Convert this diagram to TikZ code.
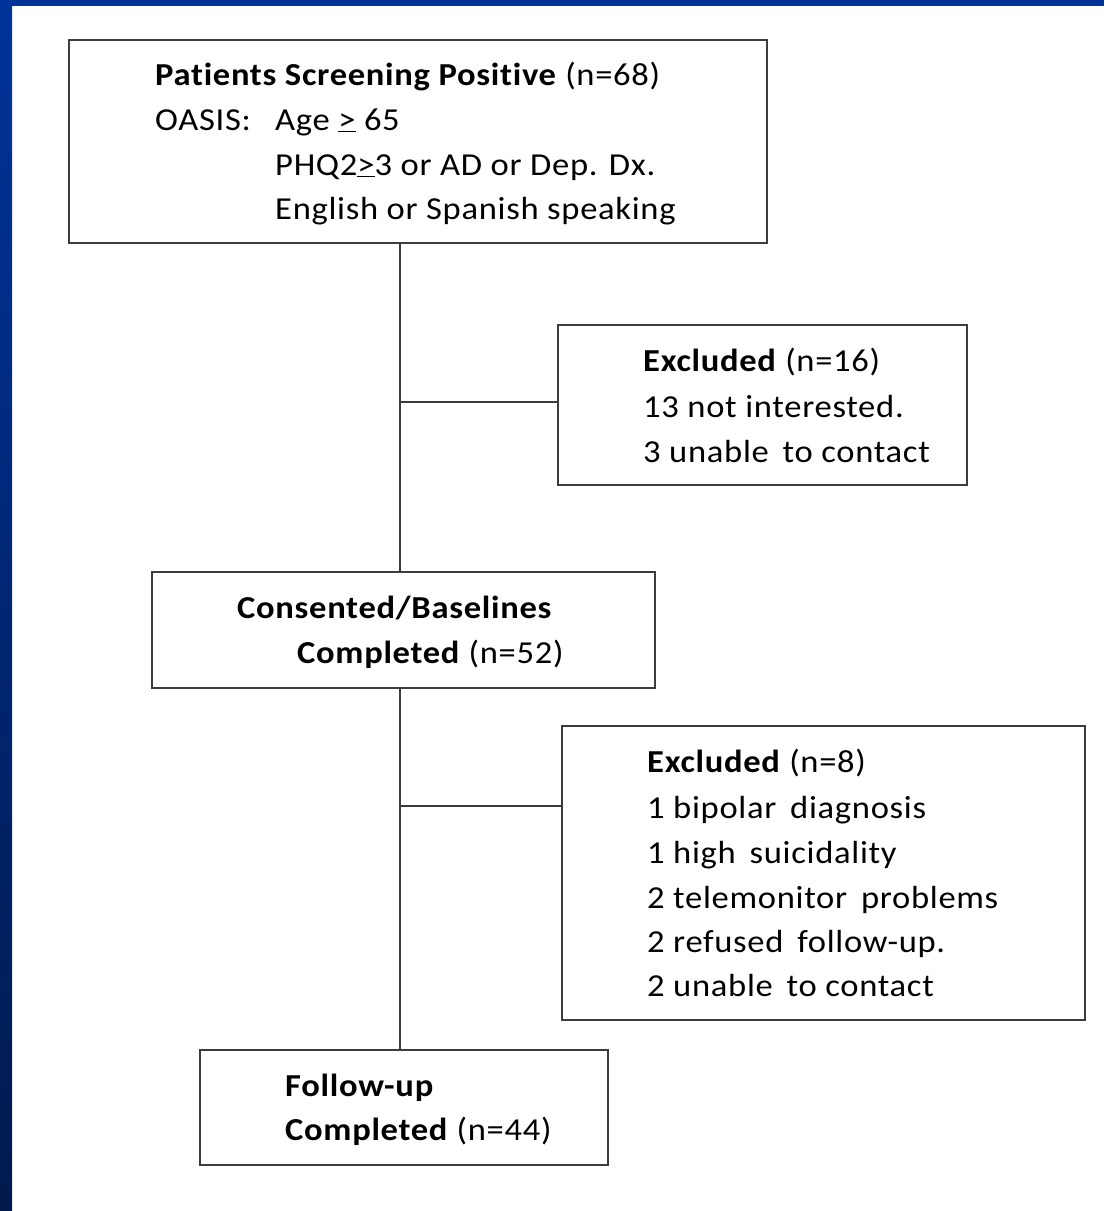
\documentclass[tikz,border=0pt]{standalone}
\usepackage{fontspec}
\setmainfont{Carlito}[FakeStretch=1.08, LetterSpace=2.2, Ligatures=NoCommon]
\usetikzlibrary{positioning}
\definecolor{FrameBlue}{RGB}{0,51,153}
\definecolor{FrameDark}{RGB}{0,26,77}
\definecolor{LineGray}{RGB}{60,60,60}

\begin{document}
\begin{tikzpicture}[
    x=1pt, y=-1pt,
    every node/.style={font=\fontsize{32}{45}\selectfont, anchor=base west, inner sep=0pt},
    box/.style={draw=LineGray, line width=2pt, anchor=north west},
    link/.style={draw=LineGray, line width=2pt},
]
\useasboundingbox (0,0) rectangle (1104,1211);
\fill[white] (0,0) rectangle (1104,1211);
\shade[top color=FrameBlue, bottom color=FrameDark] (0,0) rectangle (12,1211);
\fill[FrameBlue] (0,0) rectangle (1104,6);

% boxes
\node[box, minimum width=698pt, minimum height=203pt] (screened) at (68,39) {};
\node[box, minimum width=409pt, minimum height=160pt] (excludedA) at (557,324) {};
\node[box, minimum width=503pt, minimum height=116pt] (consented) at (151,571) {};
\node[box, minimum width=523pt, minimum height=294pt] (excludedB) at (561,725) {};
\node[box, minimum width=408pt, minimum height=115pt] (followup) at (199,1049) {};

% texts
\node (screenedHead) at (155,85) {\textbf{Patients Screening Positive} (n=68)};
\node (oasis) at (155,130) {OASIS:};
\node (ageLine) at (275,130) {Age \underline{>} 65};
\node (phqLine) at (275,175) {PHQ2\underline{>}3 or AD or Dep. Dx.};
\node (langLine) at (275,219) {English or Spanish speaking};

\node (exclAHead) at (643,371) {\textbf{Excluded} (n=16)};
\node (exclA1) at (643,417) {13 not interested.};
\node (exclA2) at (643,462) {3 unable\, to contact};

\node (consHead) at (237,618) {\textbf{Consented/Baselines}};
\node (consDone) at (297,663) {\textbf{Completed} (n=52)};

\node (exclBHead) at (647,772) {\textbf{Excluded} (n=8)};
\node (exclB1) at (647,818) {1 bipolar\, diagnosis};
\node (exclB2) at (647,863) {1 high\, suicidality};
\node (exclB3) at (647,908) {2 telemonitor\, problems};
\node (exclB4) at (647,952) {2 refused\, follow-up.};
\node (exclB5) at (647,996) {2 unable\, to contact};

\node (fuHead) at (285,1096) {\textbf{Follow-up}};
\node (fuDone) at (285,1140) {\textbf{Completed} (n=44)};

% connectors
\coordinate (splitA) at (400,402);
\coordinate (splitB) at (400,806);
\draw[link] (screened.south -| splitA) -- (consented.north -| splitA);
\draw[link] (consented.south -| splitB) -- (followup.north -| splitB);
\draw[link] (splitA) -- (excludedA.west |- splitA);
\draw[link] (splitB) -- (excludedB.west |- splitB);
\end{tikzpicture}
\end{document}
